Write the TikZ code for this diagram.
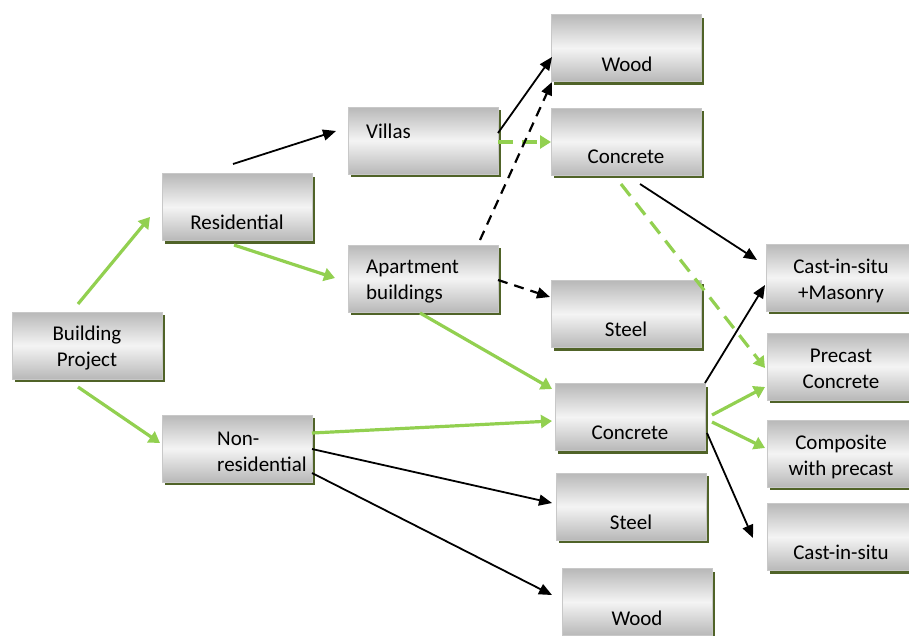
\documentclass[tikz,border=0pt]{standalone}
\usepackage{fontspec}
\setmainfont{Carlito}
\usetikzlibrary{arrows.meta,shadows,calc}

\definecolor{boxedge}{RGB}{200,200,200}
\definecolor{boxdark}{RGB}{184,184,184}
\definecolor{boxlight}{RGB}{244,244,244}
\definecolor{shadowolive}{RGB}{80,99,40}
\definecolor{linkgreen}{RGB}{146,208,80}

\tikzset{
  box/.style={rectangle, minimum width=150pt, minimum height=67pt, inner sep=0pt,
    draw=boxedge, line width=0.6pt,
    top color=boxdark, bottom color=boxdark, middle color=boxlight,
    general shadow={fill=shadowolive, shadow xshift=2.5pt, shadow yshift=-3pt}},
  txt/.style={inner sep=0pt, font=\fontsize{21}{26}\selectfont, text=black},
  blk/.style={draw=black, line width=1.8pt, -{Triangle[length=13pt,width=11pt]}},
  grn/.style={draw=linkgreen, line width=3.2pt, -{Triangle[length=11pt,width=13pt]}},
  bdash/.style={line width=2.2pt, dash pattern=on 10pt off 7pt},
  gdash/.style={dash pattern=on 15pt off 9pt},
}

\begin{document}
\begin{tikzpicture}[x=1pt,y=-1pt]
\useasboundingbox (0,0) rectangle (909,635);
\clip (0,0) rectangle (909,635);
\fill[white] (0,0) rectangle (909,635);

% boxes
\node[box] (bp)     at (87,345.5) {};
\node[box] (res)    at (237,207)  {};
\node[box] (nonres) at (237,448.5) {};
\node[box] (villas) at (423,140.5) {};
\node[box] (apt)    at (423,278.5) {};
\node[box] (wood1)  at (626,48)   {};
\node[box] (conc1)  at (626,141.5) {};
\node[box] (steel1) at (626,314)  {};
\node[box] (conc2)  at (630,417)  {};
\node[box] (steel2) at (631,506.5) {};
\node[box] (wood2)  at (637,602)  {};
\node[box] (csm)    at (841,277.5) {};
\node[box] (pc)     at (842,366.5) {};
\node[box] (comp)   at (842,453.5) {};
\node[box] (cis)    at (842,537)  {};

% box texts
\node[txt, align=center] (bp-t) at (87,348) {Building\\Project};
\node[txt] (res-t) at (237,222) {Residential};
\node[txt, align=left, anchor=west] (nonres-t) at (217,452) {Non-\\residential};
\node[txt, anchor=west] (villas-t) at (366,131) {Villas};
\node[txt, align=left, anchor=west] (apt-t) at (366,282) {Apartment\\buildings};
\node[txt] (wood1-t) at (627,64.5) {Wood};
\node[txt] (conc1-t) at (626,156.5) {Concrete};
\node[txt] (steel1-t) at (626,329) {Steel};
\node[txt] (conc2-t) at (630,433) {Concrete};
\node[txt] (steel2-t) at (631,522) {Steel};
\node[txt] (wood2-t) at (637,618) {Wood};
\node[txt, align=center] (csm-t) at (841,281) {Cast-in-situ\\+Masonry};
\node[txt, align=center] (pc-t) at (841,369) {Precast\\Concrete};
\node[txt, align=center] (comp-t) at (841,457) {Composite\\with precast};
\node[txt] (cis-t) at (841,552.5) {Cast-in-situ};

% connectors
\draw[grn] ($(bp)+(-9,-41.5)$) -- ($(res)+(-87,10)$);
\draw[grn] ($(bp)+(-9,41.5)$) -- ($(nonres)+(-77,-5.5)$);
\draw[blk] ($(res)+(-4,-43)$) -- ($(villas)+(-87,-9.5)$);
\draw[grn] ($(res)+(-3,38)$) -- ($(apt)+(-88,-0.5)$);
\draw[blk] ($(villas)+(75,-7.5)$) -- ($(wood1)+(-74,9)$);
\draw[grn, gdash] ($(villas)+(75,1.5)$) -- ($(conc1)+(-75,0.5)$);
\draw[blk, bdash] ($(apt)+(57,-38.5)$) -- ($(wood1)+(-74,34)$);
\draw[blk, bdash] ($(apt)+(75,1.5)$) -- ($(steel1)+(-76,-17)$);
\draw[grn] ($(apt)+(-3,34.5)$) -- ($(conc2)+(-78,-28)$);
\draw[grn] ($(nonres)+(75,-15.5)$) -- ($(conc2)+(-78,4)$);
\draw[blk] ($(nonres)+(75,0.5)$) -- ($(steel2)+(-79,-3.5)$);
\draw[blk] ($(nonres)+(75,24.5)$) -- ($(wood2)+(-85,-7)$);
\draw[blk] ($(conc1)+(14,42.5)$) -- ($(csm)+(-84,-17.5)$);
\draw[grn, gdash] ($(conc1)+(-5,42.5)$) -- ($(pc)+(-77,1.5)$);
\draw[blk] ($(conc2)+(75,-34)$) -- ($(csm)+(-76,7.5)$);
\draw[grn] ($(conc2)+(82,-2)$) -- ($(pc)+(-77,20.5)$);
\draw[grn] ($(conc2)+(82,5)$) -- ($(comp)+(-77,-5.5)$);
\draw[blk] ($(conc2)+(77,16)$) -- ($(cis)+(-89,1)$);
\end{tikzpicture}
\end{document}
